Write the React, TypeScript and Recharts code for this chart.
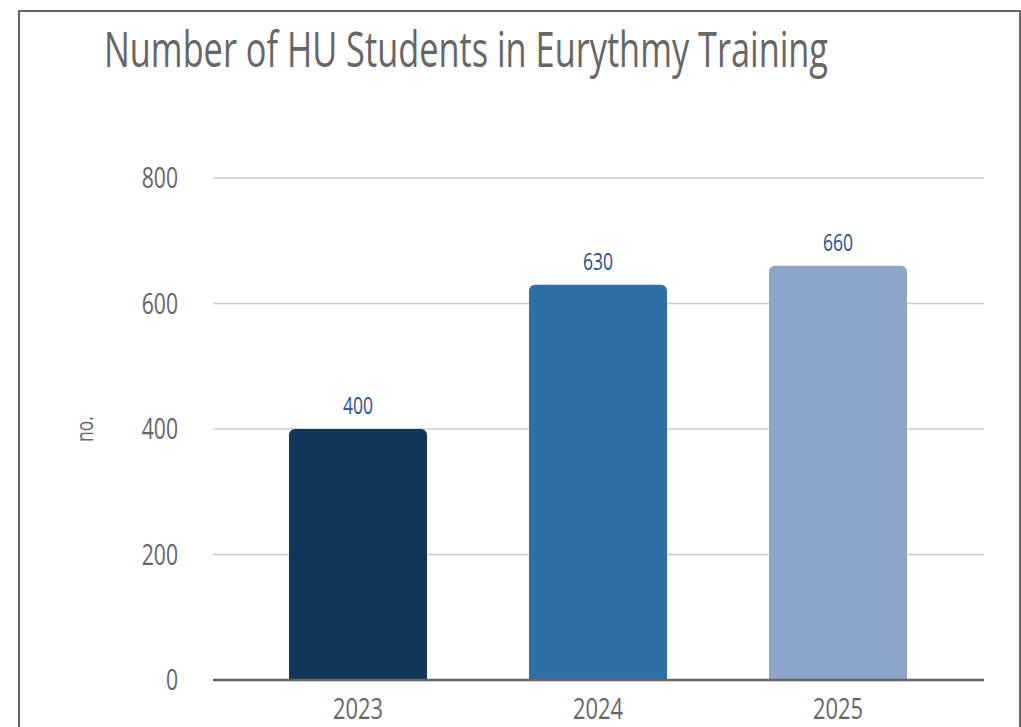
import { BarChart, Bar, XAxis, YAxis, CartesianGrid, Cell, LabelList } from "recharts";

const years = ["2023", "2024", "2025"];
const students = [400, 630, 660];
const barColors = ["#12365a", "#2e6fa7", "#8ca5c9"];
const yTicks = [0, 200, 400, 600, 800];
const chartTitle = "Number of HU Students in Eurythmy Training";

const data = years.map((year, i) => ({ year, value: students[i] }));

const FONT = "'Open Sans', 'Liberation Sans', sans-serif";
const SQUEEZE = 0.73; // the original font is a narrow one

// text squeezed sideways around its anchor point
const Narrow = ({ x, y, anchor, size, fill, dy, rotate, squeeze = SQUEEZE, length, children }: any) => (
    <text
        x={0}
        y={0}
        dy={dy}
        textAnchor={anchor}
        fontSize={size}
        fontFamily={FONT}
        fill={fill}
        textLength={length}
        lengthAdjust={length ? "spacingAndGlyphs" : undefined}
        transform={`translate(${x},${y})${rotate ? ` rotate(${rotate})` : ""} scale(${squeeze},1)`}
    >
        {children}
    </text>
);

const YTick = ({ x, y, payload }: any) => (
    <Narrow x={x} y={y} anchor="end" size={29} fill="#666" dy="0.36em">
        {payload.value}
    </Narrow>
);

const XTick = ({ x, y, payload }: any) => (
    <Narrow x={x} y={y} anchor="middle" size={30} fill="#666" dy="0.72em">
        {payload.value}
    </Narrow>
);

const ValueLabel = ({ x, y, width, value }: any) => (
    <Narrow x={x + width / 2} y={y - 15} anchor="middle" size={24} fill="#24528f">
        {value}
    </Narrow>
);

const AxisTitle = () => (
    <Narrow x={73} y={417} anchor="middle" size={24} fill="#666" rotate={-90}>
        no.
    </Narrow>
);

export default function App() {
    return (
        <div
            style={{
                position: "absolute",
                left: 18,
                top: 10,
                width: 1003,
                height: 780,
                boxSizing: "border-box",
                border: "2px solid #666",
                background: "#fff",
            }}
        >
            <svg width={997} height={90} style={{ position: "absolute", left: 0, top: 0 }}>
                <Narrow x={84} y={55} anchor="start" size={49} fill="#666" squeeze={0.66} length={724 / 0.66}>
                    {chartTitle}
                </Narrow>
            </svg>
            <BarChart
                width={997}
                height={740}
                data={data}
                margin={{ top: 166, right: 33, bottom: 32, left: 0 }}
                style={{ position: "absolute", left: 0, top: 0 }}
            >
                <CartesianGrid vertical={false} stroke="#cccccc" strokeWidth={1.5} />
                <XAxis
                    dataKey="year"
                    height={40}
                    padding={{ left: 25, right: 26 }}
                    tickLine={false}
                    tickSize={0}
                    tickMargin={17}
                    axisLine={{ stroke: "#666", strokeWidth: 2.5 }}
                    tick={<XTick />}
                />
                <YAxis
                    width={193}
                    domain={[0, 800]}
                    ticks={yTicks}
                    axisLine={false}
                    tickLine={false}
                    tickSize={0}
                    tickMargin={35}
                    tick={<YTick />}
                    label={{ content: () => <AxisTitle /> }}
                />
                <Bar dataKey="value" barSize={138} radius={[6, 6, 0, 0]} isAnimationActive={false}>
                    {data.map((d, i) => (
                        <Cell key={d.year} fill={barColors[i]} />
                    ))}
                    <LabelList dataKey="value" content={<ValueLabel />} />
                </Bar>
            </BarChart>
        </div>
    );
}
